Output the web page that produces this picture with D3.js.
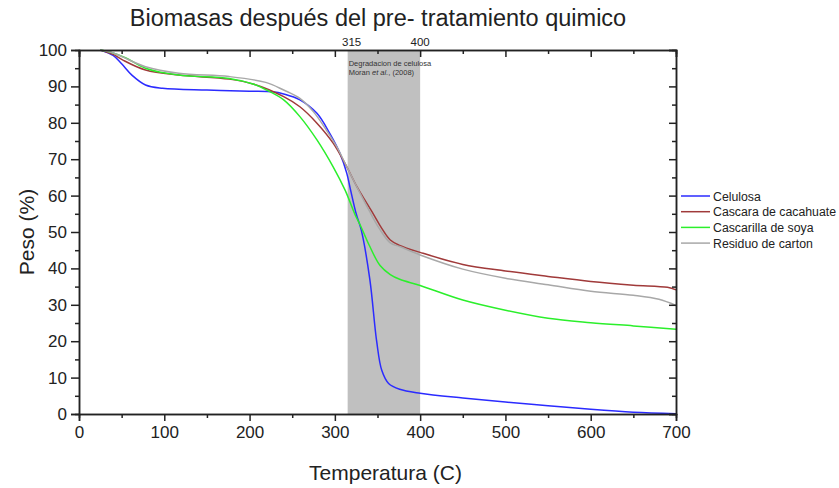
<!DOCTYPE html>
<html>
<head>
<meta charset="utf-8">
<script src="https://cdn.jsdelivr.net/npm/d3@7"></script>
<style>
	body { margin: 0; background: #fff; }
	svg { font-family: "Liberation Sans", Arial, sans-serif; }
</style>
</head>
<body>
<main></main>
<script>

// DATA
// temperatura (C) / peso (%) for each biomass
const celulosaT = [25, 40, 50, 62, 78, 98, 150, 200, 227, 240, 259, 279, 294, 306, 314, 318, 325, 331, 341, 349, 355, 363, 376, 400, 450, 500, 550, 600, 650, 700];
const celulosaW = [100, 98.5, 96.2, 93.1, 90.4, 89.5, 89, 88.7, 88.5, 87.9, 86.3, 82.6, 77.1, 71.6, 66.1, 62, 55, 50.5, 37, 20, 12, 8.4, 6.8, 5.7, 4.4, 3.3, 2.3, 1.3, 0.5, 0.1];

const cascaraT = [25, 40, 51, 78, 117, 176, 205, 240, 259, 279, 298, 314, 326, 345, 355, 365, 376, 400, 450, 500, 550, 600, 650, 690, 700];
const cascaraW = [100, 98.8, 97.3, 94.5, 93.1, 92, 90.6, 87.2, 84.4, 79.9, 74.4, 67.9, 62.4, 55, 51, 47.8, 46.3, 44.4, 41.1, 39.3, 37.8, 36.4, 35.4, 34.8, 34.1];

const cascarillaT = [25, 40, 55, 78, 117, 176, 205, 220, 240, 259, 279, 298, 312, 324, 330, 340, 353, 365, 376, 400, 450, 500, 550, 600, 650, 700];
const cascarillaW = [100, 99.2, 97.8, 95, 93.1, 92.2, 90.6, 89, 86.3, 81.7, 75.3, 67.9, 61.5, 54.6, 51.8, 46.5, 40.8, 38.3, 37, 35.3, 31.3, 28.5, 26.3, 25.1, 24.2, 23.3];

const residuoT = [25, 40, 51, 78, 117, 176, 219, 240, 259, 275, 290, 302, 314, 326, 340, 352, 365, 376, 400, 450, 500, 550, 600, 650, 680, 700];
const residuoW = [100, 99.2, 98.1, 95.4, 93.6, 92.7, 91.1, 89, 86.7, 83, 78, 73.5, 67.9, 62.3, 56, 51, 47, 46, 43.7, 39.8, 37.3, 35.5, 33.7, 32.6, 31.5, 29.8];

// series names and colours
const seriesNames = ["Celulosa", "Cascara de cacahuate", "Cascarilla de soya", "Residuo de carton"];
const seriesColors = ["#2b2bff", "#a03a3a", "#2bef2b", "#a8a8a8"];

// shaded region (degradacion de celulosa)
const bandRange = [315, 400];
const bandLabels = ["315", "400"];

// ticks
const xTicks = [0, 100, 200, 300, 400, 500, 600, 700];
const xMinor = [50, 150, 250, 350, 450, 550, 650];
const yTicks = [0, 10, 20, 30, 40, 50, 60, 70, 80, 90, 100];
const yMinor = [5, 15, 25, 35, 45, 55, 65, 75, 85, 95];


// CALLBACK: visualize data with d3
function visualizeData() {
	const w = 839;
	const h = 488;
	const margin = { top: 50, right: 163, bottom: 74, left: 79 };

	const xScale = d3.scaleLinear()
		.domain([0, 700])
		.range([margin.left, w - margin.right]);
	const yScale = d3.scaleLinear()
		.domain([0, 100])
		.range([h - margin.bottom, margin.top]);

	const svgNode = d3.select("main").append("svg").attr("height", h).attr("width", w);

	// shaded band
	svgNode.append("rect")
		.attr("x", xScale(bandRange[0]))
		.attr("y", yScale(100))
		.attr("width", xScale(bandRange[1]) - xScale(bandRange[0]))
		.attr("height", yScale(0) - yScale(100))
		.attr("fill", "#c0c0c0");

	// band annotation
	const note = svgNode.append("text")
		.attr("x", xScale(bandRange[0]) + 1)
		.attr("y", yScale(100) + 15.5)
		.attr("font-size", 7.5)
		.attr("fill", "#333");
	note.append("tspan").text("Degradacion de celulosa");
	const note2 = svgNode.append("text")
		.attr("x", xScale(bandRange[0]) + 1)
		.attr("y", yScale(100) + 25)
		.attr("font-size", 7.5)
		.attr("fill", "#333");
	note2.append("tspan").text("Moran ");
	note2.append("tspan").attr("font-style", "italic").text("et al.");
	note2.append("tspan").text(", (2008)");

	// band labels above the top axis
	svgNode.selectAll(".bandLabel").data(bandRange).enter().append("text")
		.attr("class", "bandLabel")
		.attr("x", (d, i) => xScale(d) + (i === 0 ? 4 : 0))
		.attr("y", yScale(100) - 4)
		.attr("text-anchor", "middle")
		.attr("font-size", 11.5)
		.attr("fill", "#222")
		.text((d, i) => bandLabels[i]);

	// lines
	const series = [
		{ t: celulosaT, v: celulosaW },
		{ t: cascaraT, v: cascaraW },
		{ t: cascarillaT, v: cascarillaW },
		{ t: residuoT, v: residuoW }
	];
	const line = d3.line()
		.x(d => xScale(d[0]))
		.y(d => yScale(d[1]))
		.curve(d3.curveCatmullRom.alpha(0.5));
	series.forEach((s, i) => {
		svgNode.append("path")
			.datum(s.t.map((t, j) => [t, s.v[j]]))
			.attr("fill", "none")
			.attr("stroke", seriesColors[i])
			.attr("stroke-width", 1.5)
			.attr("d", line);
	});

	// axes
	const x0 = xScale(0), x1 = xScale(700), y0 = yScale(0), y1 = yScale(100);
	const xAxis = d3.axisBottom(xScale).tickValues(xTicks).tickSize(7).tickPadding(5).tickFormat(d3.format("d"));
	const xAxisMinor = d3.axisBottom(xScale).tickValues(xMinor).tickSize(4).tickFormat("");
	const yAxis = d3.axisLeft(yScale).tickValues(yTicks).tickSize(8).tickPadding(4).tickFormat(d3.format("d"));
	const yAxisMinor = d3.axisLeft(yScale).tickValues(yMinor).tickSize(4).tickFormat("");
	const topAxis = d3.axisTop(xScale).tickValues(xTicks).tickSize(-7).tickFormat("");
	const topAxisMinor = d3.axisTop(xScale).tickValues(xMinor).tickSize(-4).tickFormat("");
	const rightAxis = d3.axisRight(yScale).tickValues(yTicks).tickSize(-7).tickFormat("");
	const rightAxisMinor = d3.axisRight(yScale).tickValues(yMinor).tickSize(-4).tickFormat("");

	const axes = [
		[xAxis, "translate(0, " + y0 + ")"],
		[xAxisMinor, "translate(0, " + y0 + ")"],
		[yAxis, "translate(" + x0 + ", 0)"],
		[yAxisMinor, "translate(" + x0 + ", 0)"],
		[topAxis, "translate(0, " + y1 + ")"],
		[topAxisMinor, "translate(0, " + y1 + ")"],
		[rightAxis, "translate(" + x1 + ", 0)"],
		[rightAxisMinor, "translate(" + x1 + ", 0)"]
	];
	axes.forEach(a => {
		const g = svgNode.append("g").attr("transform", a[1]).call(a[0]);
		g.selectAll("text").attr("font-size", 17).attr("font-family", "Liberation Sans, Arial, sans-serif").attr("fill", "#222");
		g.selectAll("line").attr("stroke", "#222").attr("stroke-width", 1.5);
		g.select(".domain").attr("stroke", "#222").attr("stroke-width", 1.5);
	});

	// titles
	svgNode.append("text")
		.attr("x", 378).attr("y", 26)
		.attr("text-anchor", "middle")
		.attr("font-size", 23.5)
		.attr("fill", "#222")
		.text("Biomasas después del pre- tratamiento quimico");
	svgNode.append("text")
		.attr("x", (x0 + x1) / 2 + 8).attr("y", 480)
		.attr("text-anchor", "middle")
		.attr("font-size", 21)
		.attr("fill", "#222")
		.text("Temperatura (C)");
	svgNode.append("text")
		.attr("transform", "translate(34, " + (y0 + y1) / 2 + ") rotate(-90)")
		.attr("text-anchor", "middle")
		.attr("font-size", 21)
		.attr("fill", "#222")
		.text("Peso (%)");

	// legend
	const legend = svgNode.append("g").attr("transform", "translate(681, 196)");
	seriesNames.forEach((name, i) => {
		const row = legend.append("g").attr("transform", "translate(0, " + i * 15.7 + ")");
		row.append("line").attr("x1", 0).attr("x2", 29).attr("y1", 0).attr("y2", 0)
			.attr("stroke", seriesColors[i]).attr("stroke-width", 1.5);
		row.append("text").attr("x", 32).attr("y", 4.5)
			.attr("font-size", 12.3).attr("fill", "#222").text(name);
	});
}


// MAIN
document.addEventListener('DOMContentLoaded', () => {
	visualizeData();
});
</script>
</body>
</html>
